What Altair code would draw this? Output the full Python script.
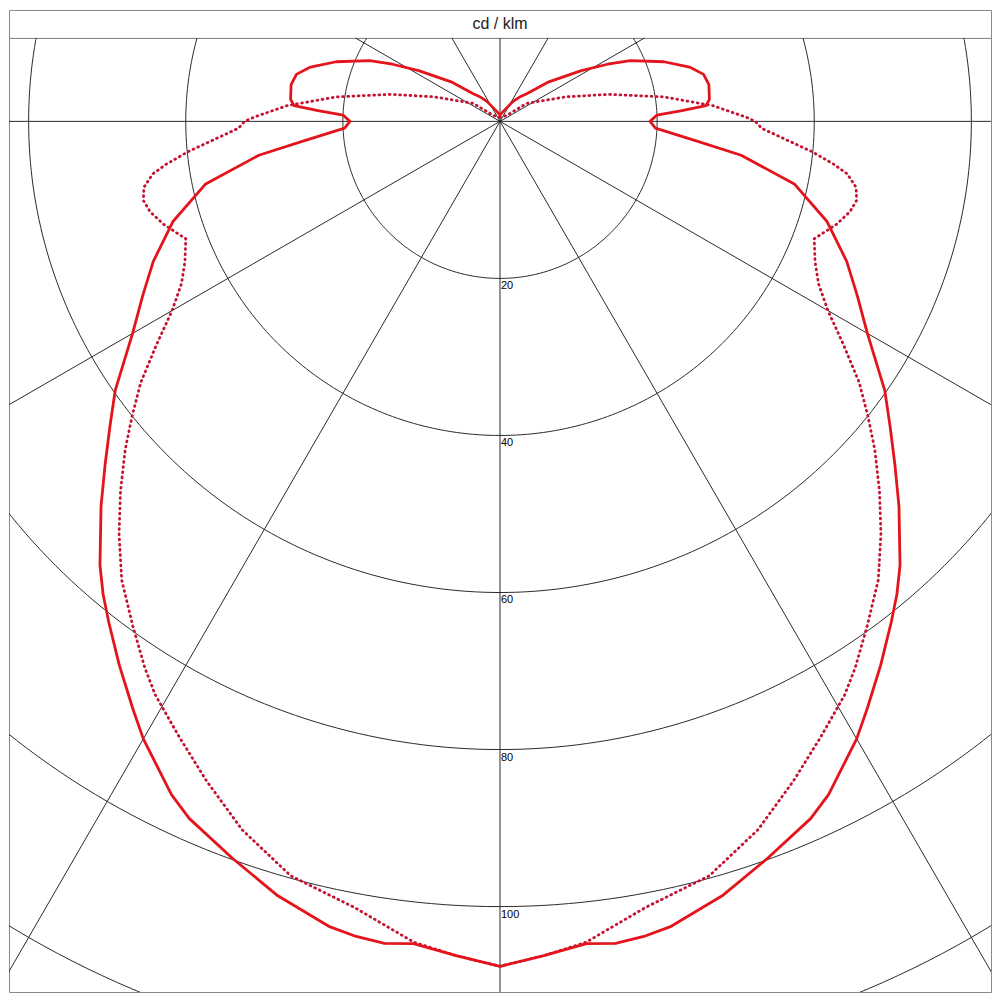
import altair as alt
import pandas as pd
import numpy as np

TITLE = "cd / klm"
RINGS = [20, 40, 60, 80, 100, 120]
RING_LABELS = [20, 40, 60, 80, 100]
SPOKES = [0, 30, 60, 90, 120, 150]

# gamma (deg from nadir) and intensity (cd/klm), one half; the other half is mirrored
GAMMA_SOLID = [0, 3, 6, 8, 10, 12, 16, 20, 24, 26, 30, 32, 35, 38, 40, 42, 46, 49, 52, 55,
               60, 64, 68, 73, 78, 82, 84.3, 87.5, 90, 92.3, 93.4, 94.4, 96, 100, 103, 106,
               110, 115, 118, 122, 129, 136, 138.5, 141, 147, 163, 180]
I_SOLID = [107.6, 106.4, 105.3, 105.7, 105.4, 104.8, 102.6, 99.8, 97.2, 95.4, 90.8, 88.2, 84.5,
           80.9, 78.6, 76.1, 70.6, 66.6, 63.0, 59.8, 54.0, 50.6, 47.6, 43.5, 38.3, 31.0, 25.1,
           19.8, 19.1, 20.0, 23.2, 26.3, 26.8, 27.0, 26.6, 25.1, 22.2, 18.3, 15.5, 12.2, 8.0,
           4.9, 4.4, 4.0, 3.0, 1.3, 0.8]

GAMMA_DOT = [0, 3, 6, 10.5, 15.5, 20, 24, 27.5, 31, 33, 36, 39.5, 42.7, 45.7, 48.8, 51.3, 54,
             57, 60, 63, 66, 69.5, 73, 75.5, 77.5, 79.5, 81.4, 82.7, 84.5, 88.5, 90, 91, 94.2,
             98.5, 104, 110.5, 124, 131, 180]
I_DOT = [107.6, 106.4, 105.1, 101.8, 99.7, 96.0, 91.9, 88.4, 85.2, 83.0, 79.5, 75.7, 71.5, 67.5,
         63.4, 60.0, 56.5, 52.1, 48.2, 45.5, 43.9, 42.7, 44.8, 46.0, 46.5, 46.1, 44.7, 42.8,
         39.8, 33.3, 32.5, 31.3, 27.2, 21.1, 14.2, 8.9, 4.1, 1.2, 0.5]

W = 984
H_TOP = 28
H_PLOT = 956
X_DOM = [-62.5, 62.5]
Y_DOM = [-110.875, 10.625]
FONT = "Liberation Sans"


def mirrored(gs, vs, name):
    rows = []
    for g, v in zip(gs, vs):
        rows.append({"g": g, "i": v, "s": name})
        if g != 0:
            rows.append({"g": -g, "i": v, "s": name})
    return pd.DataFrame(rows).sort_values("g").reset_index(drop=True)


xs = alt.Scale(domain=X_DOM, nice=False, zero=False)
ys = alt.Scale(domain=Y_DOM, nice=False, zero=False)

# grid rings
ring_rows = [{"r": r, "a": a} for r in RINGS for a in range(0, 361)]
rings = alt.Chart(pd.DataFrame(ring_rows)).transform_calculate(
    x="datum.r*sin(datum.a*PI/180)", y="-datum.r*cos(datum.a*PI/180)"
).mark_line(color="#2a2a2a", strokeWidth=1, clip=True).encode(
    x=alt.X("x:Q", scale=xs, axis=None),
    y=alt.Y("y:Q", scale=ys, axis=None),
    detail="r:N",
    order="a:Q",
)

# spokes
spokes = alt.Chart(pd.DataFrame({"a": SPOKES})).transform_calculate(
    x="150*sin(datum.a*PI/180)", y="-150*cos(datum.a*PI/180)",
    x2="-150*sin(datum.a*PI/180)", y2="150*cos(datum.a*PI/180)",
).mark_rule(color="#2a2a2a", strokeWidth=1, clip=True).encode(
    x=alt.X("x:Q", scale=xs, axis=None),
    y=alt.Y("y:Q", scale=ys, axis=None),
    x2="x2:Q",
    y2="y2:Q",
)

labels = alt.Chart(pd.DataFrame({"v": RING_LABELS})).transform_calculate(
    x="0", y="-datum.v", t="''+datum.v"
).mark_text(align="left", baseline="top", dx=1, dy=2, fontSize=11, font=FONT, color="black").encode(
    x=alt.X("x:Q", scale=xs, axis=None),
    y=alt.Y("y:Q", scale=ys, axis=None),
    text="t:N",
)


def curve(df, color, dash=None, width=2.8):
    kw = dict(color=color, strokeWidth=width, clip=True, strokeJoin="round")
    if dash:
        kw.update(strokeDash=dash, strokeCap="round")
    return alt.Chart(df).transform_calculate(
        x="datum.i*sin(datum.g*PI/180)", y="-datum.i*cos(datum.g*PI/180)"
    ).mark_line(**kw).encode(
        x=alt.X("x:Q", scale=xs, axis=None),
        y=alt.Y("y:Q", scale=ys, axis=None),
        order="g:Q",
    )


dotted = curve(mirrored(GAMMA_DOT, I_DOT, "C90-C270"), "#c41230", dash=[0.8, 4.4], width=2.8)
solid = curve(mirrored(GAMMA_SOLID, I_SOLID, "C0-C180"), "#e3141b", width=2.8)

plot = alt.layer(rings, spokes, labels, dotted, solid).properties(width=W, height=H_PLOT)

top = alt.Chart(pd.DataFrame({"t": [TITLE]})).mark_text(
    fontSize=16, font=FONT, color="#222", baseline="middle", align="center"
).encode(text="t:N", x=alt.value(W / 2), y=alt.value(14)).properties(width=W, height=H_TOP)

chart = alt.vconcat(top, plot, spacing=0, bounds="flush").properties(padding=0).configure_view(
    stroke="#8a8a8a", strokeWidth=1
).configure_concat(spacing=0)

chart.save("out.html", embed_options={"renderer": "svg", "actions": False})
